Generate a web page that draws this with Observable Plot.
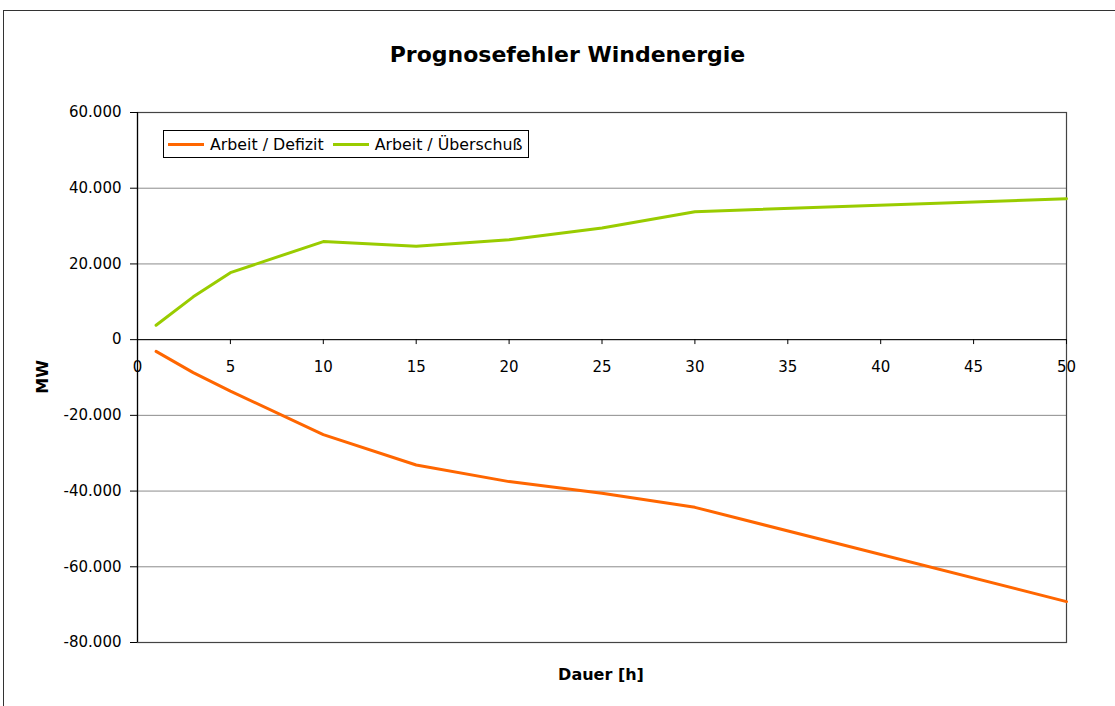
<!DOCTYPE html>
<html>
<head>
<meta charset="utf-8">
<script src="https://cdn.jsdelivr.net/npm/d3@7"></script>
<script src="https://cdn.jsdelivr.net/npm/@observablehq/plot@0.6"></script>
<style>
  html, body { margin: 0; padding: 0; background: #fff; }
  #wrap { position: relative; width: 1115px; height: 706px; overflow: hidden; font-family: "DejaVu Sans", sans-serif; color: #000; }
  #outer { position: absolute; left: 3px; top: 10px; width: 1200px; height: 800px; border: 1.5px solid #333; box-sizing: border-box; }
  #title { position: absolute; left: 0; top: 40px; width: 1135px; text-align: center; font-weight: bold; font-size: 22px; line-height: 30px; }
  #chart { position: absolute; left: 0; top: 0; }
  #legend { position: absolute; left: 163px; top: 130px; height: 28px; border: 1px solid #000; background: #fff; box-sizing: border-box; display: flex; align-items: center; padding: 0 6px 0 4px; font-size: 15.8px; white-space: nowrap; }
  .sw { display: inline-block; width: 36px; height: 3px; margin-right: 6px; }
  .item { display: flex; align-items: center; margin-right: 9px; }
  .item:last-child { margin-right: 0; }
  #ylab { position: absolute; left: 42px; top: 377px; transform: translate(-50%, -50%) rotate(-90deg); font-weight: bold; font-size: 16px; }
  #xlab { position: absolute; left: 601px; top: 674px; transform: translate(-50%, -50%); font-weight: bold; font-size: 16px; white-space: nowrap; }
</style>
</head>
<body>
<div id="wrap">
  <div id="outer"></div>
  <div id="chart"></div>
  <div id="title">Prognosefehler Windenergie</div>
  <div id="legend"></div>
  <div id="ylab">MW</div>
  <div id="xlab">Dauer [h]</div>
</div>
<script>
// Data
const hours = [1, 3, 5, 10, 15, 20, 25, 30, 50];
const defizit = [-3100, -8700, -13600, -25100, -33100, -37500, -40600, -44300, -69200];
const ueberschuss = [3800, 11300, 17700, 25900, 24700, 26400, 29500, 33800, 37200];
const seriesNames = ["Arbeit / Defizit", "Arbeit / Überschuß"];
const seriesColors = ["#FF6600", "#99CC00"];
const xTicks = [0, 5, 10, 15, 20, 25, 30, 35, 40, 45, 50];
const yTicks = [-80000, -60000, -40000, -20000, 0, 20000, 40000, 60000];

const rows = [];
hours.forEach((h, i) => {
  rows.push({h, v: defizit[i], s: seriesNames[0]});
  rows.push({h, v: ueberschuss[i], s: seriesNames[1]});
});

const fmt = d => (d < 0 ? "-" : "") + d3.format(",")(Math.abs(d)).replace(/,/g, ".");

const chart = Plot.plot({
  width: 1115,
  height: 706,
  marginLeft: 137,
  marginRight: 49,
  marginTop: 112,
  marginBottom: 64,
  style: { fontFamily: "DejaVu Sans, sans-serif", fontSize: "15px", color: "#000", background: "transparent", overflow: "visible" },
  x: { domain: [0, 50], axis: null },
  y: { domain: [-80000, 60000], axis: null },
  color: { domain: seriesNames, range: seriesColors },
  marks: [
    Plot.gridY(yTicks, { stroke: "#8c8c8c", strokeOpacity: 1, strokeWidth: 1 }),
    Plot.frame({ stroke: "#444", strokeWidth: 1.2 }),
    Plot.axisY(yTicks, { tickFormat: fmt, tickSize: 7, tickPadding: 9, label: null, fontSize: 15, stroke: "#000" }),
    Plot.ruleX([0], { stroke: "#000", strokeWidth: 1.2 }),
    Plot.ruleY([0], { stroke: "#000", strokeWidth: 1 }),
    Plot.ruleX(xTicks, { x: d => d, y1: 0, y2: -1300, stroke: "#000" }),
    Plot.text(xTicks, { x: d => d, y: 0, dy: 28, text: d => String(d), fontSize: 15, fill: "#000" }),
    Plot.line(rows, { x: "h", y: "v", z: "s", stroke: "s", strokeWidth: 3, strokeLinejoin: "round" })
  ]
});
document.getElementById("chart").appendChild(chart);

const legend = document.getElementById("legend");
seriesNames.forEach((n, i) => {
  const it = document.createElement("div");
  it.className = "item";
  it.innerHTML = `<span class="sw" style="background:${seriesColors[i]}"></span><span>${n}</span>`;
  legend.appendChild(it);
});
</script>
</body>
</html>
